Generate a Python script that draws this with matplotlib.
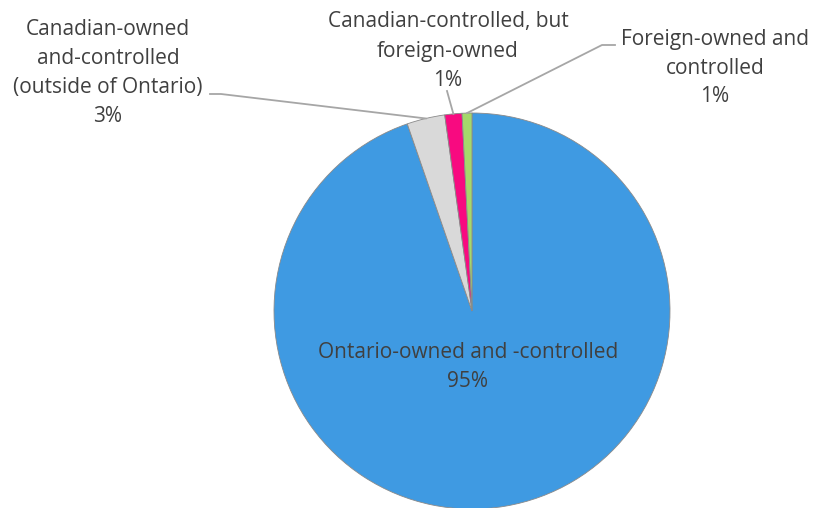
import numpy as np
import matplotlib
matplotlib.use("Agg")
import matplotlib.pyplot as plt

plt.rcParams['font.family'] = ['Open Sans', 'DejaVu Sans']

# ownership split of the firms (clockwise from 12 o'clock)
categories = ["Ontario-owned and -controlled",
              "Canadian-owned\nand-controlled\n(outside of Ontario)",
              "Canadian-controlled, but\nforeign-owned",
              "Foreign-owned and\ncontrolled"]
shares = [94.7, 3.1, 1.4, 0.8]
colors = ["#3f9ae2", "#d9d9d9", "#f80a80", "#a5d86b"]

W, H = 818, 508
CX, CY, R = 472, 311, 198      # pie centre and radius in pixels
TXT = "#404040"
LINE = "#a6a6a6"

fig = plt.figure(figsize=(W / 100, H / 100), dpi=100)
ax = fig.add_axes([0, 0, 1, 1])

wedges, _ = ax.pie(shares, colors=colors, startangle=90, counterclock=False,
                   radius=1, center=(0, 0),
                   wedgeprops=dict(edgecolor="#8a8a8a", linewidth=0.6))
ax.set_xlim(-CX / R, (W - CX) / R)
ax.set_ylim(-(H - CY) / R, CY / R)
ax.set_aspect('equal')
ax.axis('off')


def px(x, y):
    # pixel position (from top-left) -> data coords
    return (x - CX) / R, (CY - y) / R


def edge_point(i):
    w = wedges[i]
    a = np.deg2rad((w.theta1 + w.theta2) / 2)
    return np.cos(a), np.sin(a)


def label(i, x, y):
    pct = "{:.0f}%".format(shares[i])
    ax.text(*px(x, y), categories[i] + "\n" + pct, ha='center', va='center',
            fontsize=15, color=TXT, linespacing=1.5)


# big slice label sits inside the pie
label(0, 468, 367)

# outside labels with leader lines
label(1, 108, 73)
ex, ey = edge_point(1)
p0, p1 = px(210, 94), px(221, 94)
ax.plot([p0[0], p1[0], ex], [p0[1], p1[1], ey], color=LINE, lw=1.3)

label(2, 448, 51)
ex, ey = edge_point(2)
p0 = px(447, 91)
ax.plot([p0[0], ex], [p0[1], ey], color=LINE, lw=1.3)

label(3, 715, 68)
ex, ey = edge_point(3)
p0, p1 = px(615, 45), px(602, 45)
ax.plot([p0[0], p1[0], ex], [p0[1], p1[1], ey], color=LINE, lw=1.3)

fig.savefig("out.png", dpi=100)
